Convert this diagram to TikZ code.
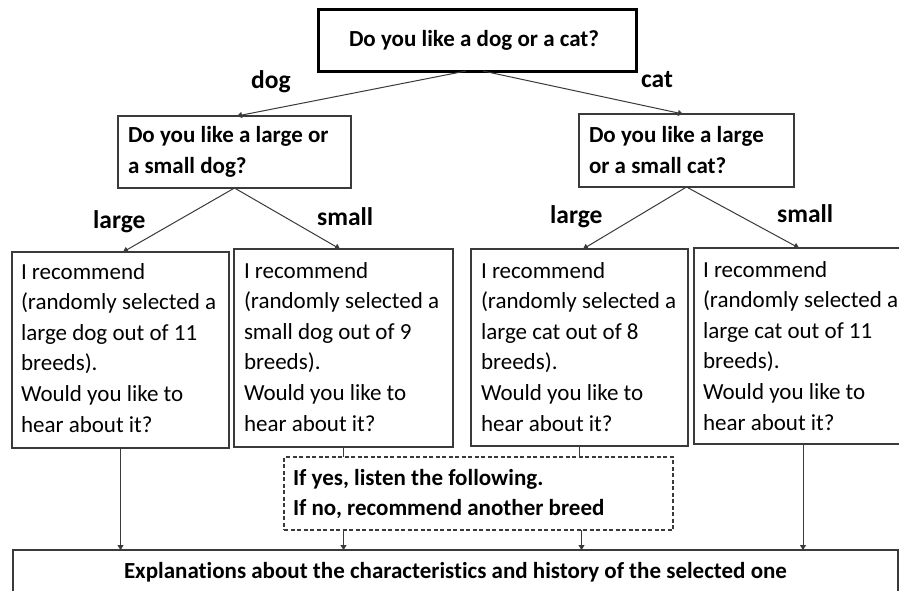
\documentclass[tikz,border=0pt]{standalone}
\usepackage{fontspec}
\setmainfont{Carlito}[Ligatures=NoCommon]
\usetikzlibrary{arrows.meta}
\definecolor{ln}{HTML}{3A3A3A}
\begin{document}
\begin{tikzpicture}[x=1pt,y=-1pt,
  box/.style={draw=ln,line width=1.1pt,inner sep=0pt,outer sep=0pt,anchor=north west,rectangle},
  txt/.style={anchor=base west,inner sep=0pt,outer sep=0pt,font=\fontsize{23}{30.6}\selectfont},
  btxt/.style={txt,font=\fontsize{23}{31}\selectfont\bfseries},
  lbl/.style={anchor=base west,inner sep=0pt,font=\fontsize{25.5}{30}\selectfont\bfseries},
  arr/.style={draw=ln,line width=1pt,-{Triangle[length=5pt,width=6pt]}},
  con/.style={draw=ln,line width=1pt}]
\useasboundingbox (0,0) rectangle (899,590);
\clip (0,0) rectangle (899,590);
\fill[white] (0,0) rectangle (899,590);
% boxes
\node[box,draw=black,line width=3pt,minimum width=318pt,minimum height=62pt] (top) at (318,9) {};
\node[box,minimum width=233pt,minimum height=72pt] (qdog) at (118,116) {};
\node[box,minimum width=215pt,minimum height=73pt] (qcat) at (579,114) {};
\node[box,minimum width=217pt,minimum height=196pt] (box1) at (12,252) {};
\node[box,minimum width=219pt,minimum height=198pt] (box2) at (234,249) {};
\node[box,minimum width=217pt,minimum height=197pt] (box3) at (471,249) {};
\node[box,minimum width=210pt,minimum height=196pt] (box4) at (694,248) {};
\node[box,dash pattern=on 4pt off 2.5pt,minimum width=389pt,minimum height=73pt] (dsh) at (284,457) {};
\node[box,minimum width=885pt,minimum height=60pt] (bot) at (13,550) {};
% texts
\node[btxt] (ttop) at (349,46) {Do you like a dog or a cat?};
\node[btxt] (tqdog) at (128,142.5) {\begin{tabular}[t]{@{}l@{}}Do you like a large or\\a small dog?\end{tabular}};
\node[btxt] (tqcat) at (589,142) {\begin{tabular}[t]{@{}l@{}}Do you like a large\\or a small cat?\end{tabular}};
\node[txt] (t1) at (21,279) {\begin{tabular}[t]{@{}l@{}}I recommend\\(randomly selected a\\large dog out of 11\\breeds).\\Would you like to\\hear about it?\end{tabular}};
\node[txt] (t2) at (244,278) {\begin{tabular}[t]{@{}l@{}}I recommend\\(randomly selected a\\small dog out of 9\\breeds).\\Would you like to\\hear about it?\end{tabular}};
\node[txt] (t3) at (481,278) {\begin{tabular}[t]{@{}l@{}}I recommend\\(randomly selected a\\large cat out of 8\\breeds).\\Would you like to\\hear about it?\end{tabular}};
\node[txt] (t4) at (703,277) {\begin{tabular}[t]{@{}l@{}}I recommend\\(randomly selected a\\large cat out of 11\\breeds).\\Would you like to\\hear about it?\end{tabular}};
\node[btxt,font=\fontsize{23}{30}\selectfont\bfseries] (tdsh) at (293,485.5) {\begin{tabular}[t]{@{}l@{}}If yes, listen the following.\\If no, recommend another breed\end{tabular}};
\node[btxt] (tbot) at (124,578) {Explanations about the characteristics and history of the selected one};
% labels
\node[lbl] (ldog) at (251,88) {dog};
\node[lbl] (lcat) at (641,87) {cat};
\node[lbl] (ll1) at (93,228) {large};
\node[lbl] (ls1) at (317,225) {small};
\node[lbl] (ll2) at (550,223) {large};
\node[lbl] (ls2) at (777,222) {small};
% connectors
\draw[arr] ([xshift=-11pt]top.south) -- ([xshift=2.5pt]qdog.north);
\draw[arr] ([xshift=6pt]top.south) -- ([xshift=-3.5pt]qcat.north);
\draw[arr] (qdog.south) -- ([xshift=2.5pt]box1.north);
\draw[arr] (qdog.south) -- ([xshift=-3.5pt]box2.north);
\draw[arr] (qcat.south) -- ([xshift=3.5pt]box3.north);
\draw[arr] (qcat.south) -- (box4.north);
\draw[arr] (box1.south) -- (box1.south |- bot.north);
\draw[con] (box2.south) -- (box2.south |- dsh.north);
\draw[con] (box3.south) -- (box3.south |- dsh.north);
\draw[arr] (dsh.south -| box2.south) -- (box2.south |- bot.north);
\draw[arr] ([xshift=2pt]dsh.south -| box3.south) -- ([xshift=2pt]box3.south |- bot.north);
\draw[arr] ([xshift=4pt]box4.south) -- ([xshift=4pt]box4.south |- bot.north);
\end{tikzpicture}
\end{document}
